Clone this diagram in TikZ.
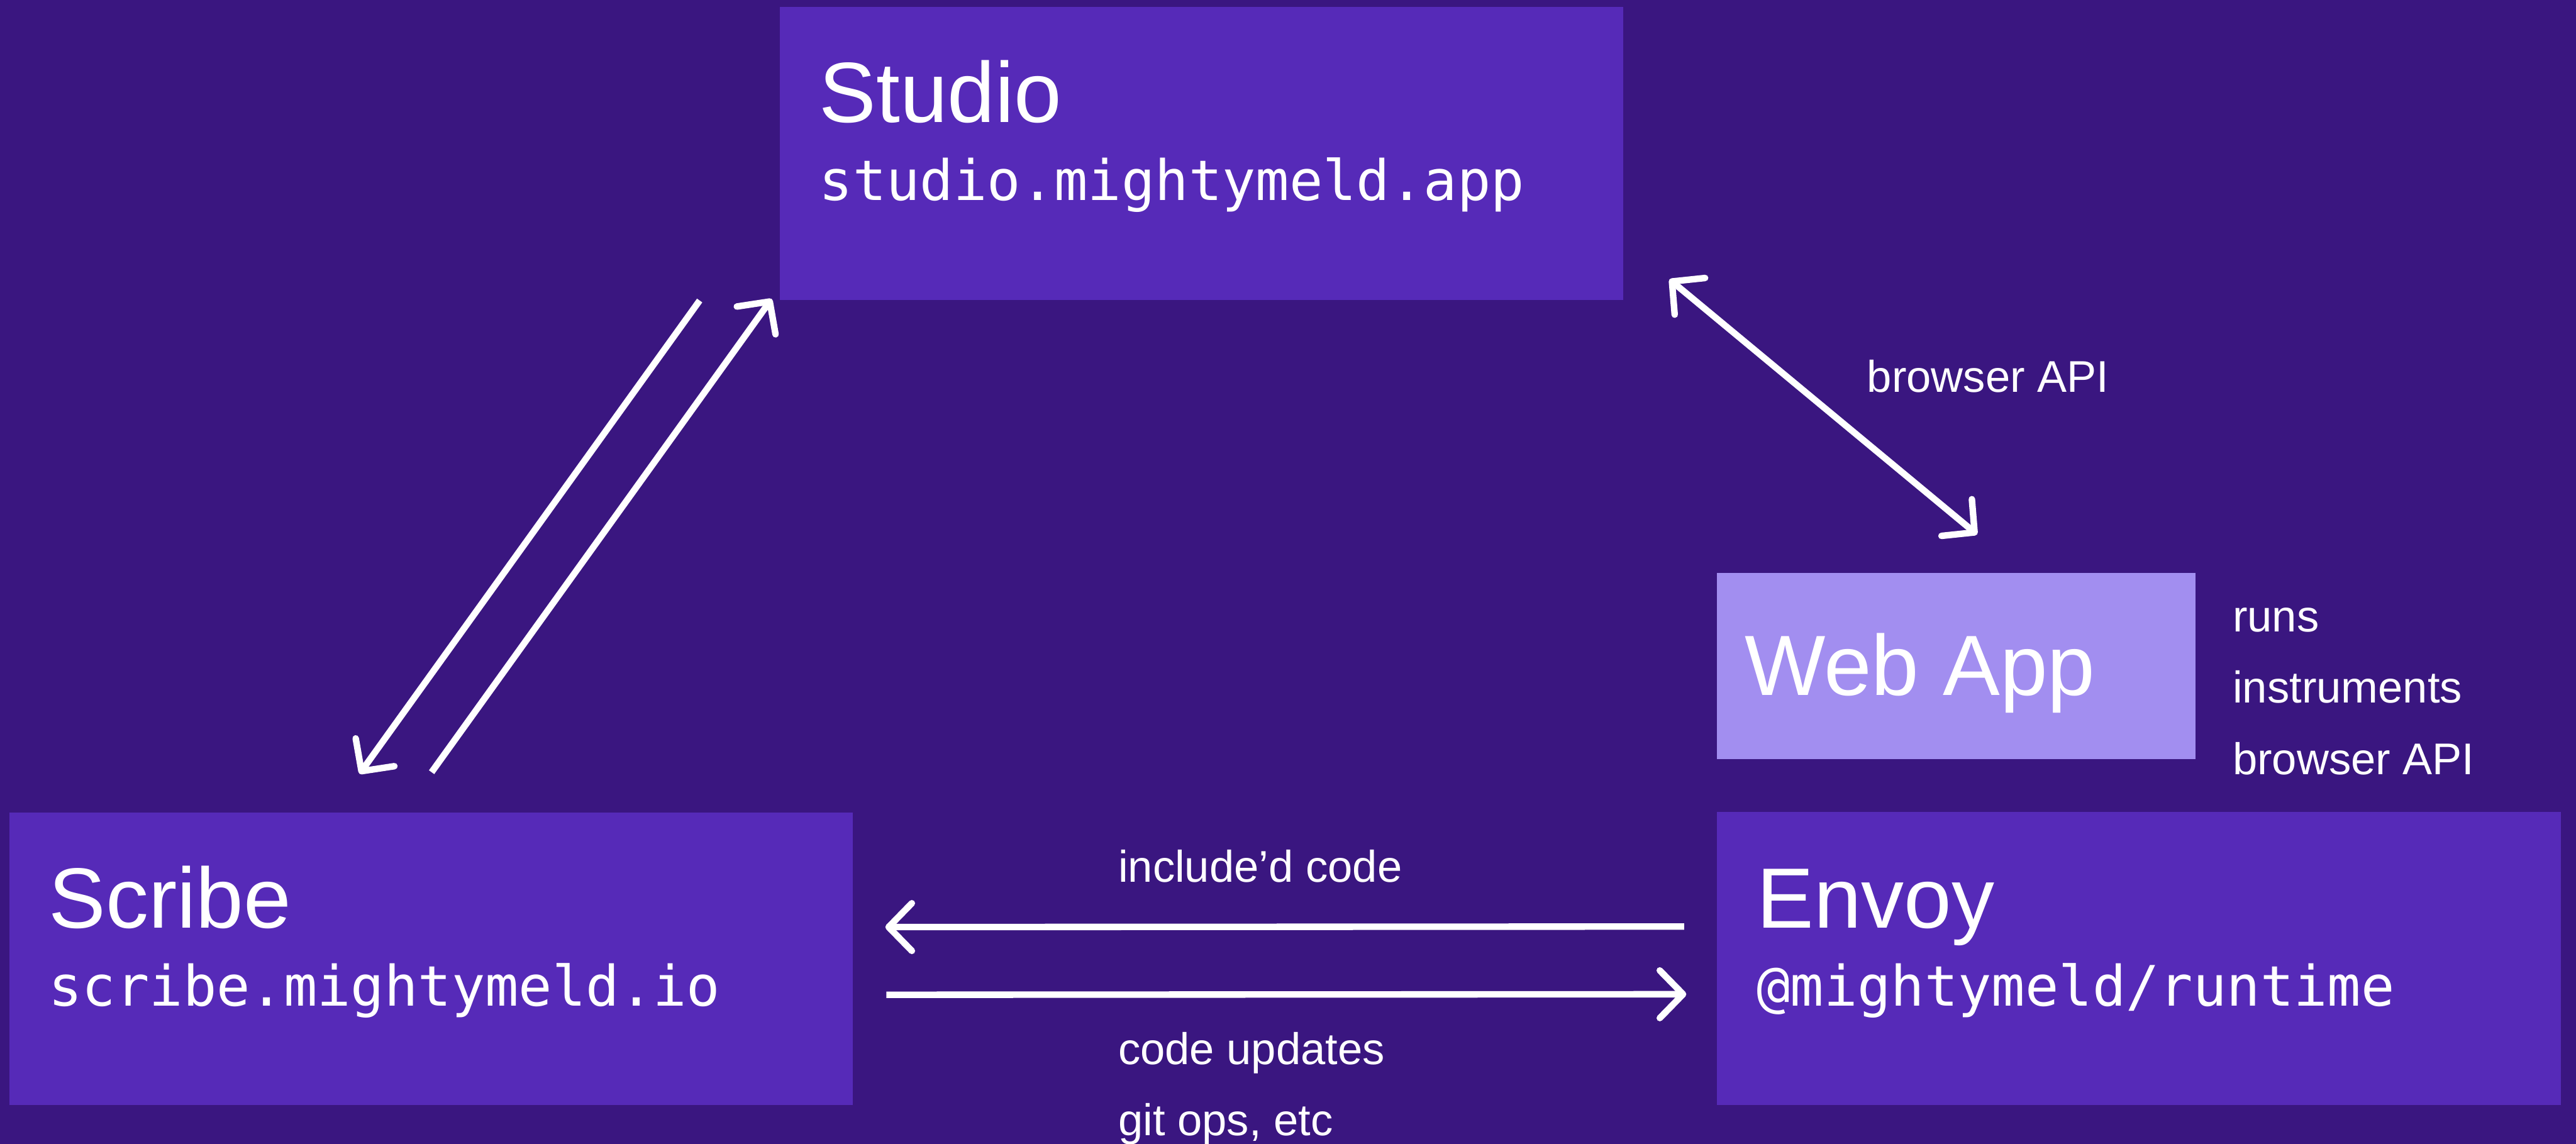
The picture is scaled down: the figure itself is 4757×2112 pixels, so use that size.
\documentclass[tikz,border=0pt]{standalone}
\usepackage{fontspec}
\setmainfont{Liberation Sans}
\newfontfamily\codefont{DejaVu Sans Mono}
\usetikzlibrary{arrows.meta,calc}
\definecolor{bgc}{RGB}{58,22,128}
\definecolor{boxc}{RGB}{86,42,184}
\definecolor{webc}{RGB}{162,142,240}
\tikzset{
  ctip/.tip={Straight Barb[length=4.3pt,width=8.8pt,round]},
  panel/.style={fill=boxc, draw=none, inner sep=0, outer sep=0, anchor=north west,
    minimum width=155.8pt, minimum height=54.1pt},
  webbox/.style={fill=webc, draw=none, inner sep=0, outer sep=0, anchor=north west,
    minimum width=88.3pt, minimum height=34.4pt},
  title/.style={text=white, inner sep=0, outer sep=0, anchor=base west,
    font=\fontsize{15.8pt}{18pt}\selectfont},
  code/.style={text=white, inner sep=0, outer sep=0, anchor=base west,
    font=\codefont\fontsize{10.3pt}{12pt}\selectfont},
  lbl/.style={text=white, inner sep=0, outer sep=0, anchor=base west,
    font=\fontsize{8.2pt}{10pt}\selectfont},
  conn/.style={draw=white, line width=1.2pt},
}
\begin{document}
\begin{tikzpicture}[x=0.1pt,y=-0.1pt]
\useasboundingbox (0,0) rectangle (4757,2112);
\fill[bgc] (0,0) rectangle (4757,2112);

% boxes
\node[panel] (studio) at (1440,13) {};
\node[panel] (scribe) at (17,1500) {};
\node[panel] (envoy) at (3171,1499) {};
\node[webbox] (webapp) at (3171,1058) {};

% box texts
\node[title] (studiot) at ($(studio.north west)+(73,213)$) {Studio};
\node[code] (studioc) at ($(studio.north west)+(73,357)$) {studio.mightymeld.app};
\node[title] (scribet) at ($(scribe.north west)+(73,214)$) {Scribe};
\node[code] (scribec) at ($(scribe.north west)+(73,358)$) {scribe.mightymeld.io};
\node[title] (envoyt) at ($(envoy.north west)+(73,215)$) {Envoy};
\node[code] (envoyc) at ($(envoy.north west)+(73,359)$) {@mightymeld/runtime};
\node[title] (webappt) at ($(webapp.north west)+(51,226)$) {Web App};

% side labels
\node[lbl] (runs) at (4123,1167) {runs};
\node[lbl] (instr) at (4123,1298) {instruments};
\node[lbl] (bapi) at (4123,1430) {browser API};
\node[lbl] (bapil) at (3448,724) {browser API};
\node[lbl] (incl) at (2065,1629) {include’d code};
\node[lbl] (cupd) at (2065,1966) {code updates};
\node[lbl] (gitops) at (2065,2097) {git ops, etc};

% connector end points
\coordinate (a1) at ($(studio.south west)+(-148,1)$);
\coordinate (a2) at ($(scribe.north west)+(647,-71)$);
\coordinate (b1) at ($(scribe.north west)+(780,-74)$);
\coordinate (b2) at ($(studio.south west)+(-15,-2)$);
\coordinate (c1) at ($(studio.south east)+(85,-38)$);
\coordinate (c2) at ($(webapp.north)+(38.5,-71)$);
\coordinate (d1) at ($(envoy.west)+(-61,-58.5)$);
\coordinate (d2) at ($(scribe.east)+(60,-58.5)$);
\coordinate (e1) at ($(scribe.east)+(62,66.5)$);
\coordinate (e2) at ($(envoy.west)+(-57,66.5)$);

% connectors
\draw[conn,-ctip] (a1) -- (a2);
\draw[conn,-ctip] (b1) -- (b2);
\draw[conn,ctip-ctip] (c1) -- (c2);
\draw[conn,-ctip] (d1) -- (d2);
\draw[conn,-ctip] (e1) -- (e2);
\end{tikzpicture}
\end{document}
